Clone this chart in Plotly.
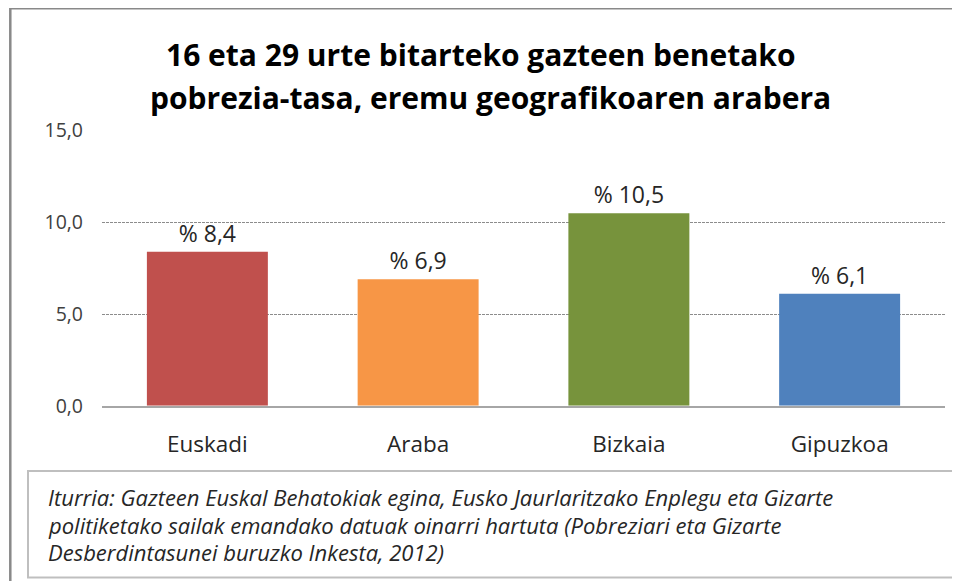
import plotly.graph_objects as go

categories = ["Euskadi", "Araba", "Bizkaia", "Gipuzkoa"]
values = [8.4, 6.9, 10.5, 6.1]
value_labels = ["% 8,4", "% 6,9", "% 10,5", "% 6,1"]
bar_colors = ["#C0504D", "#F79646", "#77933C", "#4F81BD"]
y_tickvals = [0, 5, 10, 15]
y_ticktext = ["0,0", "5,0", "10,0", "15,0"]
title_lines = ["16 eta 29 urte bitarteko gazteen benetako",
               "pobrezia-tasa, eremu geografikoaren arabera"]
caption_lines = ["Iturria: Gazteen Euskal Behatokiak egina, Eusko Jaurlaritzako Enplegu eta Gizarte",
                 "politiketako sailak emandako datuak oinarri hartuta (Pobreziari eta Gizarte",
                 "Desberdintasunei buruzko Inkesta, 2012)"]

W, H = 960, 581
O = 8  # page body margin offset of the rendered figure
FONT = "Open Sans"


def px(x):
    return (x - O) / W


def py(y):
    return 1 - (y - O) / H


fig = go.Figure(go.Bar(
    x=categories, y=values, text=value_labels, textposition="outside",
    textfont=dict(family=FONT, size=23, color="#262626"),
    marker=dict(color=bar_colors, line=dict(width=0)),
    width=0.574, cliponaxis=False, hoverinfo="skip",
))

annotations = []
title_x = [481, 490]
title_y = [54, 98]
for line, xc, yc in zip(title_lines, title_x, title_y):
    annotations.append(dict(text="<b>" + line + "</b>", xref="paper", yref="paper",
                            x=px(xc), y=py(yc), xanchor="center", yanchor="middle",
                            showarrow=False, font=dict(family=FONT, size=30, color="#000000")))
caption_y = [497, 525, 552]
for line, yc in zip(caption_lines, caption_y):
    annotations.append(dict(text="<i>" + line + "</i>", xref="paper", yref="paper",
                            x=px(46), y=py(yc), xanchor="left", yanchor="middle",
                            showarrow=False, font=dict(family=FONT, size=22, color="#262626")))

fig.update_layout(
    width=W, height=H, autosize=False,
    margin=dict(l=0, r=0, t=0, b=0, autoexpand=False),
    paper_bgcolor="white", plot_bgcolor="white",
    showlegend=False,
    xaxis=dict(domain=[px(102), px(945)], showgrid=False, showline=True,
               linecolor="#A6A6A6", linewidth=2, ticks="",
               tickfont=dict(family=FONT, size=22.5, color="#262626"),
               ticklabelstandoff=17, fixedrange=True),
    yaxis=dict(domain=[py(405.7), py(130.6)], range=[0, 15],
               tickvals=y_tickvals, ticktext=y_ticktext,
               showgrid=True, gridcolor="#8C8C8C", gridwidth=1, griddash="3px,1px",
               zeroline=False, showline=False, ticks="",
               tickfont=dict(family=FONT, size=19.5, color="#404040"),
               ticklabelstandoff=18, fixedrange=True),
    shapes=[
        dict(type="rect", xref="paper", yref="paper",
             x0=px(10.3), x1=1.05, y0=-0.05, y1=py(8.2),
             line=dict(color="#898989", width=2.5), fillcolor="rgba(0,0,0,0)", layer="below"),
        dict(type="rect", xref="paper", yref="paper",
             x0=px(28), x1=px(954), y0=py(577.5), y1=py(471),
             line=dict(color="#BFBFBF", width=2), fillcolor="rgba(0,0,0,0)"),
    ],
    annotations=annotations,
)

fig.write_html("out.html")
